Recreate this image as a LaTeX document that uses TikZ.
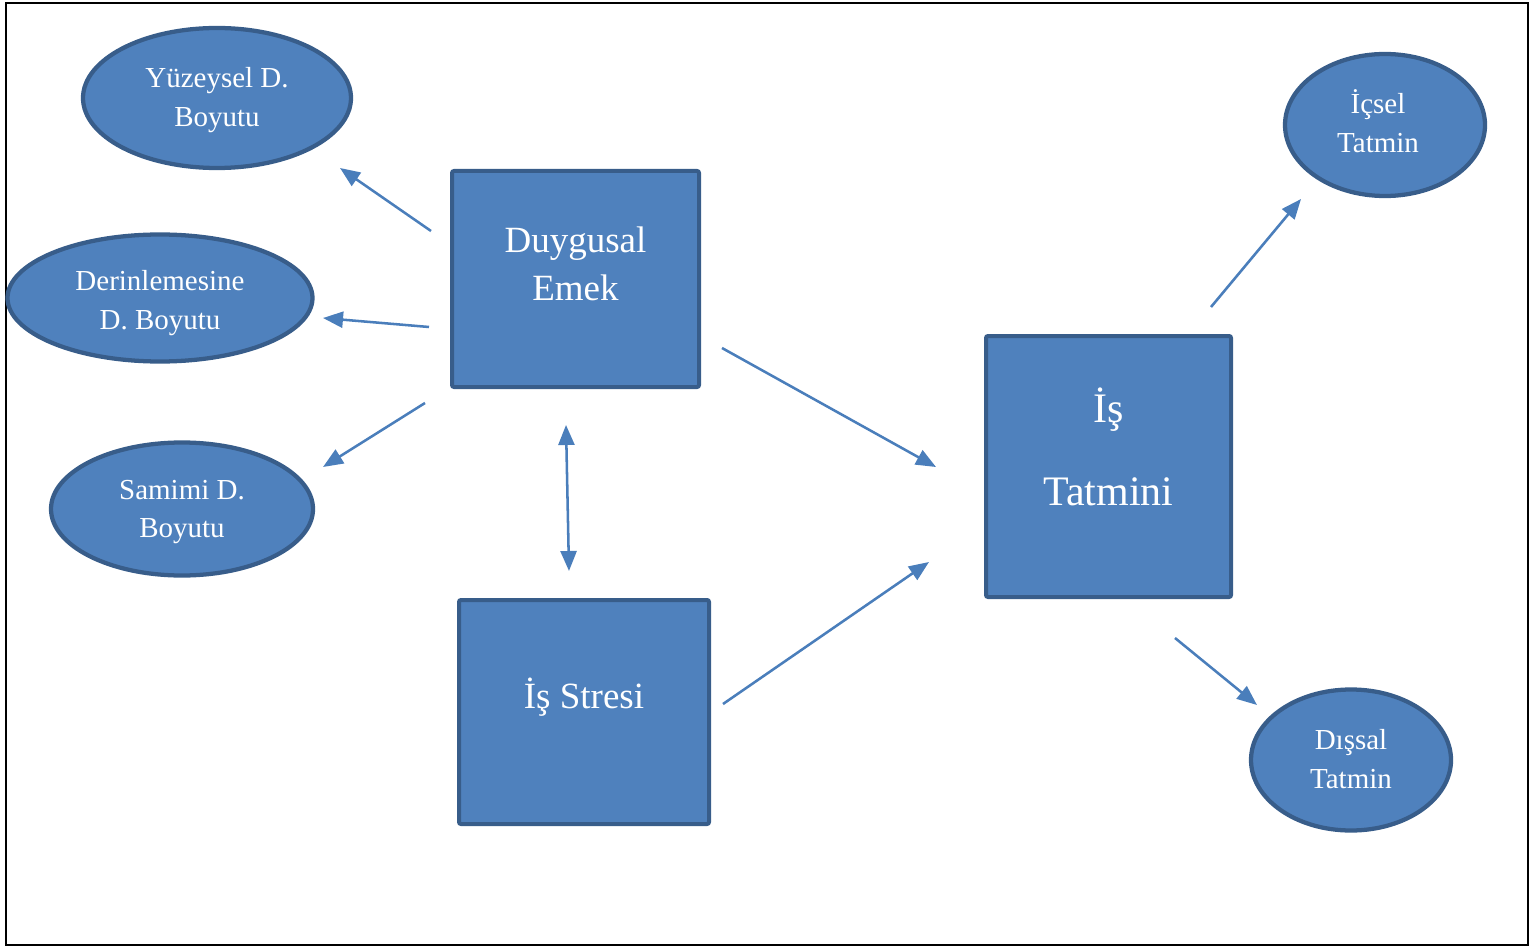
\documentclass[tikz,border=0pt]{standalone}
\usepackage{fontspec}
\setmainfont{Liberation Serif}
\usetikzlibrary{shapes.geometric,arrows.meta}
\definecolor{fillblue}{HTML}{4F81BD}
\definecolor{edgeblue}{HTML}{385D8A}
\definecolor{arrowblue}{HTML}{4A7EBB}
\tikzset{
  boxshape/.style={draw=edgeblue, fill=fillblue, line width=3pt, rounded corners=1.5pt, inner sep=0pt},
  ellshape/.style={ellipse, draw=edgeblue, fill=fillblue, line width=3.2pt, inner sep=0pt},
  smalltext/.style={text=white, align=center, inner sep=0pt, font=\fontsize{21.75}{29}\selectfont},
  bigtext/.style={text=white, align=center, inner sep=0pt, font=\fontsize{27.75}{36}\selectfont},
  hugetext/.style={text=white, align=center, inner sep=0pt, font=\fontsize{31.5}{62}\selectfont},
  conn/.style={draw=arrowblue, line width=1.9pt, -{Triangle[length=15pt,width=12pt]}},
  dconn/.style={draw=arrowblue, line width=1.9pt, {Triangle[length=15pt,width=12pt]}-{Triangle[length=15pt,width=12pt]}},
}
\begin{document}
\begin{tikzpicture}[x=0.75pt,y=-0.75pt]
\useasboundingbox (0,0) rectangle (1533,948);
\draw[black, line width=1.5pt] (6,3) rectangle (1528,945);

% ellipses
\node[ellshape, minimum width=201pt, minimum height=105pt] (yuz) at (217,98) {};
\node[smalltext] (yuztxt) at (217,100) {Yüzeysel D.\\Boyutu};
\node[ellshape, minimum width=228.75pt, minimum height=95.25pt] (der) at (160,298) {};
\node[smalltext] (dertxt) at (160,303) {Derinlemesine\\D. Boyutu};
\node[ellshape, minimum width=196.5pt, minimum height=99.75pt] (sam) at (182,509) {};
\node[smalltext] (samtxt) at (182,512) {Samimi D.\\Boyutu};
\node[ellshape, minimum width=150pt, minimum height=106.5pt] (ic) at (1385,125) {};
\node[smalltext] (ictxt) at (1378,121) {İçsel\\Tatmin};
\node[ellshape, minimum width=150pt, minimum height=105.75pt] (dis) at (1351,760) {};
\node[smalltext] (distxt) at (1351,759) {Dışsal\\Tatmin};

% boxes
\node[boxshape, minimum width=185.25pt, minimum height=162pt] (de) at (575.5,279) {};
\node[bigtext] (detxt) at (575.5,264) {Duygusal\\Emek};
\node[boxshape, minimum width=183.75pt, minimum height=195.75pt] (it) at (1108.5,466.5) {};
\node[hugetext] (ittxt) at (1108.5,447) {İş\\Tatmini};
\node[boxshape, minimum width=187.5pt, minimum height=168pt] (is) at (584,712) {};
\node[bigtext] (istxt) at (584,697) {İş Stresi};

% connector end points
\coordinate (a1s) at (431,231); \coordinate (a1e) at (340,168);
\coordinate (a2s) at (429,327); \coordinate (a2e) at (323,318);
\coordinate (a3s) at (425,403); \coordinate (a3e) at (323,467);
\coordinate (a4s) at (566,425); \coordinate (a4e) at (569,571);
\coordinate (a5s) at (722,348); \coordinate (a5e) at (936,467);
\coordinate (a6s) at (723,704); \coordinate (a6e) at (929,562);
\coordinate (a7s) at (1211,307); \coordinate (a7e) at (1301,199);
\coordinate (a8s) at (1175,638); \coordinate (a8e) at (1257,705);

\draw[conn] (a1s) -- (a1e);
\draw[conn] (a2s) -- (a2e);
\draw[conn] (a3s) -- (a3e);
\draw[dconn] (a4s) -- (a4e);
\draw[conn] (a5s) -- (a5e);
\draw[conn] (a6s) -- (a6e);
\draw[conn] (a7s) -- (a7e);
\draw[conn] (a8s) -- (a8e);
\end{tikzpicture}
\end{document}
